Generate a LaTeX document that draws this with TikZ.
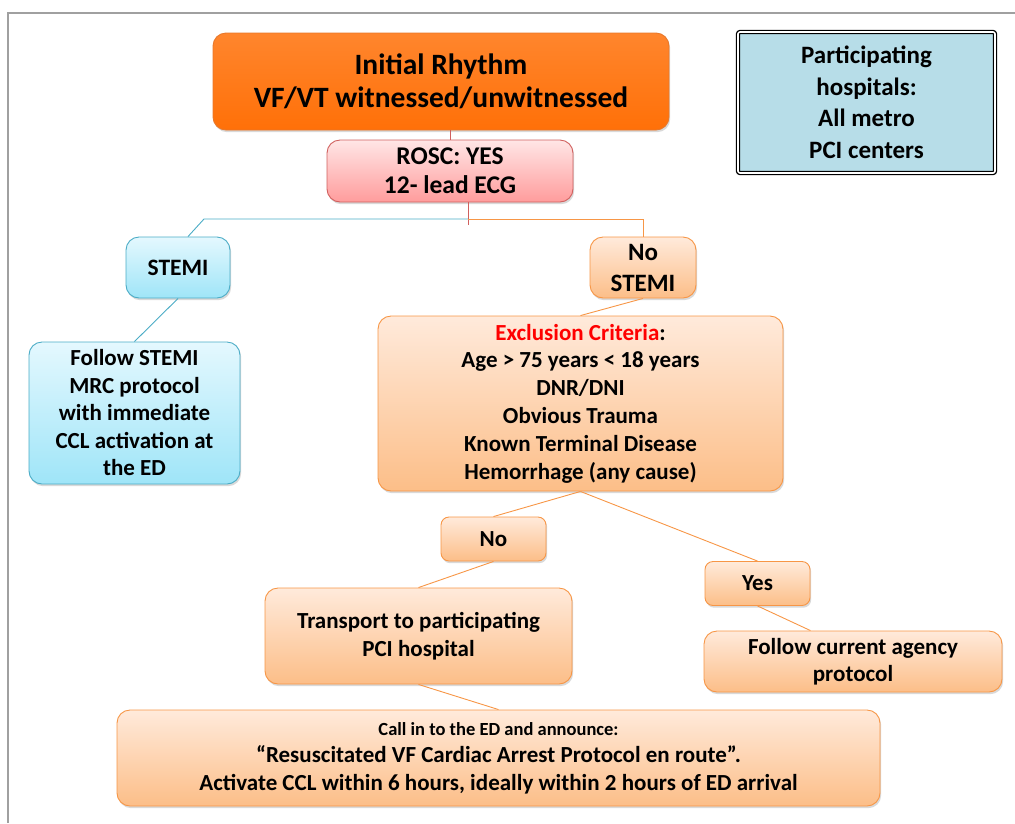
\documentclass[tikz,border=0pt]{standalone}
\usepackage{fontspec}
\setmainfont{Carlito}
\usetikzlibrary{calc,positioning,shadows}

\definecolor{framegray}{HTML}{A0A0A0}
\definecolor{initfill}{HTML}{FF7008}
\definecolor{initdraw}{HTML}{E8782A}
\definecolor{pinktop}{HTML}{FFE6E6}
\definecolor{pinkbot}{HTML}{FF9C9C}
\definecolor{pinkdraw}{HTML}{D0605E}
\definecolor{bluetop}{HTML}{E4F8FE}
\definecolor{bluebot}{HTML}{9FE5F8}
\definecolor{bluedraw}{HTML}{4BACC6}
\definecolor{orangetop}{HTML}{FFEADB}
\definecolor{orangebot}{HTML}{FCBE88}
\definecolor{orangedraw}{HTML}{F79646}
\definecolor{hospfill}{HTML}{B7DDE8}

\tikzset{
    box/.style={rounded corners=13pt, draw, line width=0.9pt, align=center, inner sep=2pt,
        drop shadow={shadow xshift=1.2pt, shadow yshift=-2.2pt, opacity=0.3}},
    orangebox/.style={box, draw=orangedraw, top color=orangetop, bottom color=orangebot},
    bluebox/.style={box, draw=bluedraw, top color=bluetop, bottom color=bluebot},
    pinkbox/.style={box, draw=pinkdraw, top color=pinktop, bottom color=pinkbot},
    orangeline/.style={draw=orangedraw, line width=0.9pt},
    blueline/.style={draw=bluedraw, line width=0.9pt},
    pinkline/.style={draw=pinkdraw, line width=0.9pt}
}

\begin{document}
\begin{tikzpicture}[x=1pt, y=-1pt, font=\bfseries]
        \useasboundingbox (0,0) rectangle (1015,823);

        % page frame
        \draw[framegray, line width=2.8pt] (8,823) -- (8,13) -- (1015,13);

        % top of the chart
        \node[box, draw=initdraw, top color=initfill!85!white, bottom color=initfill, minimum width=456, minimum height=97,
            font={\bfseries\fontsize{29.5}{33}\selectfont}] (init) at (441,81.5) {Initial Rhythm\\VF/VT witnessed/unwitnessed};
        \node[pinkbox, minimum width=246, minimum height=62,
            font={\bfseries\fontsize{25.5}{29}\selectfont}] (rosc) at (450,171) {ROSC: YES\\12- lead ECG};

        % participating hospitals
        \node[draw=black, double=white, double distance=1.6pt, line width=1.3pt, rounded corners=2pt, fill=hospfill,
            minimum width=257, minimum height=141, align=center,
            font={\bfseries\fontsize{25}{31.5}\selectfont}] (hosp) at (866.5,102.5) {Participating\\hospitals:\\All metro\\PCI centers};

        % stemi branch
        \node[bluebox, minimum width=104, minimum height=61,
            font={\bfseries\fontsize{23.5}{28}\selectfont}] (stemi) at (178,267.5) {STEMI};
        \node[bluebox, minimum width=211, minimum height=142,
            font={\bfseries\fontsize{23}{27.5}\selectfont}] (stemifollow) at (134.5,413)
            {Follow STEMI\\MRC protocol\\with immediate\\CCL activation at\\the ED};

        % no stemi branch
        \node[orangebox, minimum width=106, minimum height=61,
            font={\bfseries\fontsize{25}{31}\selectfont}] (nostemi) at (643,267.5) {No\\STEMI};
        \node[orangebox, minimum width=405, minimum height=175,
            font={\bfseries\fontsize{23}{27.8}\selectfont}] (excl) at (580.5,403.5)
            {\textcolor{red}{Exclusion Criteria}:\\Age > 75 years < 18 years\\DNR/DNI\\Obvious Trauma\\Known Terminal Disease\\Hemorrhage (any cause)};
        \node[orangebox, rounded corners=8pt, minimum width=105, minimum height=44,
            font={\bfseries\fontsize{23}{27}\selectfont}] (no) at (493.5,539) {No};
        \node[orangebox, rounded corners=8pt, minimum width=105, minimum height=44,
            font={\bfseries\fontsize{23}{27}\selectfont}] (yes) at (757.5,583.5) {Yes};
        \node[orangebox, minimum width=307, minimum height=96,
            font={\bfseries\fontsize{23}{27.5}\selectfont}] (transport) at (418.5,636) {Transport to participating\\PCI hospital};
        \node[orangebox, minimum width=298, minimum height=61,
            font={\bfseries\fontsize{23}{27.5}\selectfont}] (agency) at (853,661.5) {Follow current agency\\protocol};
        \node[orangebox, minimum width=763, minimum height=96,
            font={\bfseries\fontsize{23}{27.5}\selectfont}] (callin) at (498.5,758)
            {{\fontsize{18.5}{27.5}\selectfont Call in to the ED and announce:}\\``Resuscitated VF Cardiac Arrest Protocol en route''.\\Activate CCL within 6 hours, ideally within 2 hours of ED arrival};

        % connectors
        \coordinate (split) at (468,219);
        \coordinate (bluebend) at (204,219);
        \draw[pinkline] (rosc.north) -- (rosc.north |- init.south);
        \draw[pinkline] (rosc.south -| split) -- ($(split)+(0,6)$);
        \draw[blueline] (split) -- (bluebend) -- ($(stemi.north)+(10,0)$);
        \draw[orangeline] (split) -- (nostemi.north |- split) -- (nostemi.north);
        \draw[blueline] (stemi.south) -- (stemifollow.north);
        \draw[orangeline] (nostemi.south) -- (excl.north);
        \draw[orangeline] (excl.south) -- (no.north);
        \draw[orangeline] (excl.south) -- (yes.north);
        \draw[orangeline] (no.south) -- (transport.north);
        \draw[orangeline] (yes.south) -- (agency.north -| yes.east);
        \draw[orangeline] (transport.south) -- (callin.north);

    \end{tikzpicture}
\end{document}
